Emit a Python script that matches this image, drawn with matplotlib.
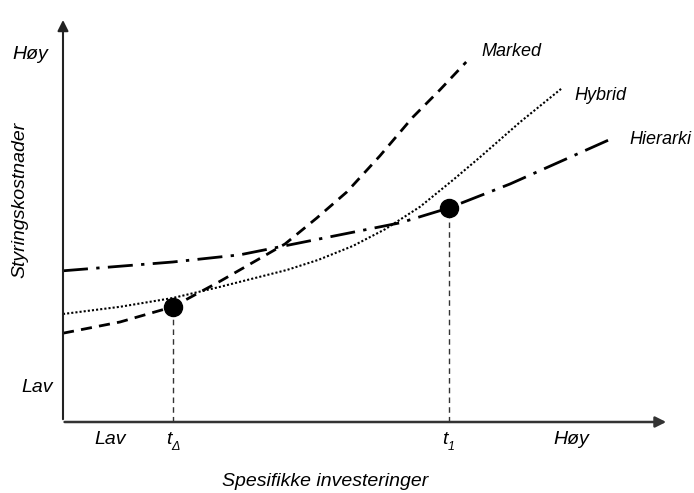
import matplotlib
matplotlib.use("Agg")
import matplotlib.pyplot as plt

plt.rcParams['font.family'] = ['Liberation Sans', 'DejaVu Sans']

# curves (x = specific investments, y = governance cost)
marked_x = [0.0, 0.95, 1.83, 2.62, 3.12, 3.7, 4.23, 4.73, 5.28, 5.83, 6.28, 6.72]
marked_y = [2.22, 2.5, 2.88, 3.52, 3.95, 4.45, 5.1, 5.75, 6.65, 7.62, 8.3, 9.0]

hybrid_x = [0.0, 0.95, 1.83, 2.62, 3.73, 4.25, 4.83, 5.37, 5.95, 6.5, 6.95, 7.62, 8.32]
hybrid_y = [2.7, 2.88, 3.1, 3.38, 3.8, 4.05, 4.4, 4.82, 5.38, 6.05, 6.62, 7.5, 8.35]

hierarki_x = [0.0, 1.83, 2.95, 3.95, 5.62, 6.43, 7.45, 9.17]
hierarki_y = [3.78, 4.0, 4.18, 4.48, 4.98, 5.35, 5.95, 7.1]

# switch points t_delta and t_1
point_x = [1.83, 6.43]
point_y = [2.88, 5.35]
point_subs = ['Δ', '1']

fig = plt.figure(figsize=(6.94, 4.93), dpi=100)
ax = fig.add_axes([0, 0, 1, 1])
ax.set_xlim(-1.05, 10.517)
ax.set_ylim(-1.775, 10.55)
ax.axis('off')

# axes with arrows
ax.annotate('', xy=(0, 10.12), xytext=(0, 0),
            arrowprops=dict(arrowstyle='-|>', color='#222222', lw=1.5, mutation_scale=16))
ax.annotate('', xy=(10.1, 0), xytext=(-0.02, 0),
            arrowprops=dict(arrowstyle='-|>', color='#333333', lw=1.8, mutation_scale=16))

ax.plot(marked_x, marked_y, color='black', lw=2, linestyle=(0, (4, 2.6)))
ax.plot(hybrid_x, hybrid_y, color='black', lw=1.5, linestyle=(0, (1, 1)))
ax.plot(hierarki_x, hierarki_y, color='black', lw=2, linestyle=(0, (9, 3, 1.2, 3)))

for px, py, sub in zip(point_x, point_y, point_subs):
    ax.plot([px, px], [0, py], color='#333333', lw=1, linestyle=(0, (4, 3)))
    ax.text(px - 0.02, -0.45, 't', fontsize=14, style='italic', ha='right', va='center')
    ax.annotate(sub, xy=(px - 0.02, -0.45), xytext=(0, -5), textcoords='offset points',
                fontsize=9, style='italic', ha='left', va='center')
ax.plot(point_x, point_y, 'o', color='black', markersize=13)

# text
ax.text(-0.55, 9.18, 'Høy', fontsize=14, style='italic', ha='center', va='center')
ax.text(-0.43, 0.875, 'Lav', fontsize=14, style='italic', ha='center', va='center')
ax.text(0.78, -0.45, 'Lav', fontsize=14, style='italic', ha='center', va='center')
ax.text(8.47, -0.45, 'Høy', fontsize=14, style='italic', ha='center', va='center')
ax.text(-0.72, 5.55, 'Styringskostnader', fontsize=14, style='italic',
        rotation=90, ha='center', va='center')
ax.text(4.37, -1.5, 'Spesifikke investeringer', fontsize=14, style='italic',
        ha='center', va='center')

ax.text(7.48, 9.25, 'Marked', fontsize=13, style='italic', ha='center', va='center')
ax.text(8.95, 8.15, 'Hybrid', fontsize=13, style='italic', ha='center', va='center')
ax.text(9.95, 7.05, 'Hierarki', fontsize=13, style='italic', ha='center', va='center')

fig.savefig('out.png', dpi=100)
